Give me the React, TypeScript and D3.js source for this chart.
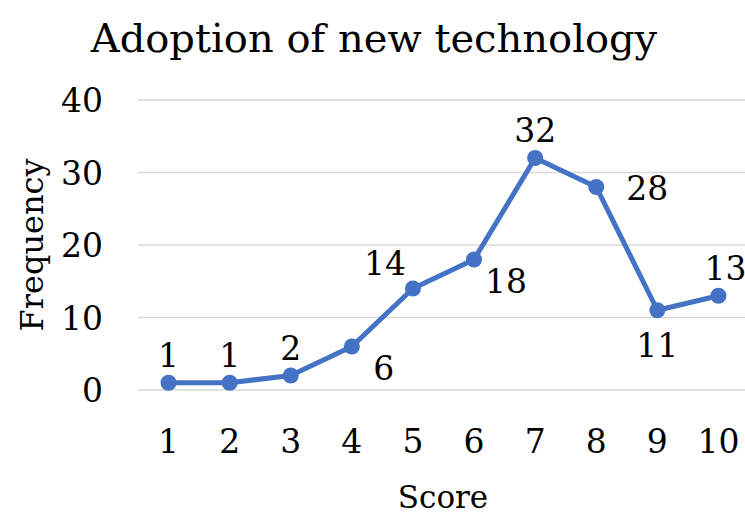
import React, { useEffect, useRef } from 'react';
import * as d3 from 'd3';

// chart data
const scores = ['1', '2', '3', '4', '5', '6', '7', '8', '9', '10'];
const frequency = [1, 1, 2, 6, 14, 18, 32, 28, 11, 13];
const yTicks = [0, 10, 20, 30, 40];
// where each data label sits relative to its point
const labelSide = ['above', 'above', 'above', 'belowRight', 'aboveLeft', 'belowRight', 'above', 'right', 'below', 'aboveRight'];

const FONT = '"DejaVu Serif", "Liberation Serif", serif';
const BLUE = '#4472C4';

function App() {
  const svgRef = useRef<SVGSVGElement>(null);

  useEffect(() => {
    const width = 745;
    const height = 516;
    const margin = { top: 100, right: -4, bottom: 126, left: 138 };
    const innerW = width - margin.left - margin.right;
    const innerH = height - margin.top - margin.bottom;

    const root = d3.select(svgRef.current);
    root.selectAll('*').remove();
    root.attr('width', width).attr('height', height);

    root.append('rect').attr('width', width).attr('height', height).attr('fill', '#ffffff');

    // title
    root.append('text')
      .attr('x', 374)
      .attr('y', 52)
      .attr('text-anchor', 'middle')
      .attr('font-family', FONT)
      .attr('font-size', 40)
      .attr('fill', '#000')
      .text('Adoption of new technology');

    const g = root.append('g').attr('transform', `translate(${margin.left},${margin.top})`);

    const x = d3.scaleBand().domain(scores).range([0, innerW]);
    const y = d3.scaleLinear().domain([0, 40]).range([innerH, 0]);

    // gridlines
    g.selectAll('.grid')
      .data(yTicks)
      .enter()
      .append('line')
      .attr('x1', 0)
      .attr('x2', innerW)
      .attr('y1', d => y(d))
      .attr('y2', d => y(d))
      .attr('stroke', '#d9d9d9')
      .attr('stroke-width', 1.5);

    // y tick labels
    g.selectAll('.ytick')
      .data(yTicks)
      .enter()
      .append('text')
      .attr('x', -35)
      .attr('y', d => y(d) + 12)
      .attr('text-anchor', 'end')
      .attr('font-family', FONT)
      .attr('font-size', 33)
      .attr('fill', '#000')
      .text(d => d);

    // x tick labels
    g.selectAll('.xtick')
      .data(scores)
      .enter()
      .append('text')
      .attr('x', d => (x(d) as number) + x.bandwidth() / 2)
      .attr('y', innerH + 63)
      .attr('text-anchor', 'middle')
      .attr('font-family', FONT)
      .attr('font-size', 33)
      .attr('fill', '#000')
      .text(d => d);

    // axis titles
    root.append('text')
      .attr('transform', `translate(43,${margin.top + innerH / 2}) rotate(-90)`)
      .attr('text-anchor', 'middle')
      .attr('font-family', FONT)
      .attr('font-size', 32)
      .attr('fill', '#000')
      .text('Frequency');

    root.append('text')
      .attr('x', 443)
      .attr('y', 508)
      .attr('text-anchor', 'middle')
      .attr('font-family', FONT)
      .attr('font-size', 31)
      .attr('fill', '#000')
      .text('Score');

    const pts = scores.map((s, i) => ({
      x: (x(s) as number) + x.bandwidth() / 2,
      y: y(frequency[i]),
      v: frequency[i],
      side: labelSide[i],
    }));

    const line = d3.line<{ x: number; y: number }>().x(d => d.x).y(d => d.y);

    g.append('path')
      .datum(pts)
      .attr('d', line)
      .attr('fill', 'none')
      .attr('stroke', BLUE)
      .attr('stroke-width', 5)
      .attr('stroke-linejoin', 'round');

    g.selectAll('.dot')
      .data(pts)
      .enter()
      .append('circle')
      .attr('cx', d => d.x)
      .attr('cy', d => d.y)
      .attr('r', 8)
      .attr('fill', BLUE);

    // data labels
    const offset: Record<string, [number, number, string]> = {
      above: [0, -16, 'middle'],
      aboveRight: [7, -16, 'middle'],
      below: [0, 47, 'middle'],
      right: [30, 13, 'start'],
      belowRight: [32, 33, 'middle'],
      aboveLeft: [-28, -14, 'middle'],
    };

    g.selectAll('.lbl')
      .data(pts)
      .enter()
      .append('text')
      .attr('x', d => d.x + offset[d.side][0])
      .attr('y', d => d.y + offset[d.side][1])
      .attr('text-anchor', d => offset[d.side][2])
      .attr('font-family', FONT)
      .attr('font-size', 33)
      .attr('fill', '#000')
      .text(d => d.v);
  }, []);

  return <svg ref={svgRef} style={{ display: 'block', position: 'absolute', left: 0, top: 0 }}></svg>;
}

export default App;
